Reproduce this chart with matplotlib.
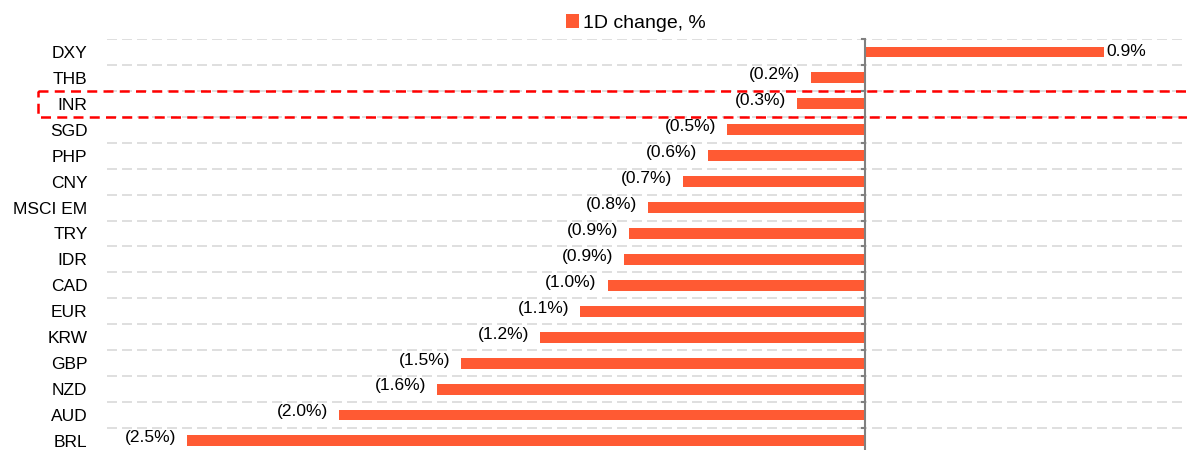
import numpy as np
import matplotlib.pyplot as plt
from matplotlib.patches import Rectangle
from matplotlib.transforms import blended_transform_factory

plt.rcParams['font.family'] = ['Liberation Sans', 'DejaVu Sans']

currencies = ['DXY', 'THB', 'INR', 'SGD', 'PHP', 'CNY', 'MSCI EM', 'TRY',
              'IDR', 'CAD', 'EUR', 'KRW', 'GBP', 'NZD', 'AUD', 'BRL']
change_1d = [0.88, -0.20, -0.25, -0.51, -0.58, -0.67, -0.80, -0.87,
             -0.89, -0.95, -1.05, -1.20, -1.49, -1.58, -1.94, -2.50]
labels = ['0.9%', '(0.2%)', '(0.3%)', '(0.5%)', '(0.6%)', '(0.7%)', '(0.8%)', '(0.9%)',
          '(0.9%)', '(1.0%)', '(1.1%)', '(1.2%)', '(1.5%)', '(1.6%)', '(2.0%)', '(2.5%)']
highlight = 'INR'

bar_color = '#FF5A33'
W, H = 1187, 450
fig = plt.figure(figsize=(W / 100, H / 100), dpi=100)
ax = fig.add_axes([107 / W, 0, 1080 / W, (H - 39) / H])

y = np.arange(len(currencies))
ax.barh(y, change_1d, height=0.42, color=bar_color, label='1D change, %', zorder=3)

for yi, v, t in zip(y, change_1d, labels):
    if v >= 0:
        ax.text(v + 0.01, yi, t, ha='left', va='center', fontsize=12.5)
    else:
        ax.text(v - 0.04, yi - 0.12, t, ha='right', va='center', fontsize=12.5)

ax.set_xlim(-2.797, 1.188)
ax.set_ylim(15.35, -0.5)

# dashed gridlines between categories
for b in np.arange(-0.5, len(currencies) - 0.5, 1.0):
    ax.axhline(b, color='#D9D9D9', lw=1.2, ls=(0, (6, 3)), zorder=1)
    ax.plot([-0.012, 0], [b, b], color='#808080', lw=1.5, zorder=4, clip_on=False)
ax.axvline(0, color='#808080', lw=1.5, zorder=4)

ax.set_yticks(y)
ax.set_yticklabels(currencies, fontsize=12.5)
ax.tick_params(axis='y', length=0, pad=14)
ax.set_xticks([])
for s in ax.spines.values():
    s.set_visible(False)

# highlight box
k = currencies.index(highlight)
tr = blended_transform_factory(fig.transFigure, ax.transData)
ax.add_patch(Rectangle((38 / W, k - 0.5), 1.1, 1.0, transform=tr, fill=False,
                       edgecolor='#FF0000', lw=1.8, ls=(0, (4, 2.5)), clip_on=False, zorder=5))

fig.legend(loc='center', bbox_to_anchor=(636 / W, 1 - 23 / H), frameon=False,
           fontsize=14, handlelength=0.67, handleheight=0.67, handletextpad=0.2)

fig.savefig('out.png', dpi=100)
